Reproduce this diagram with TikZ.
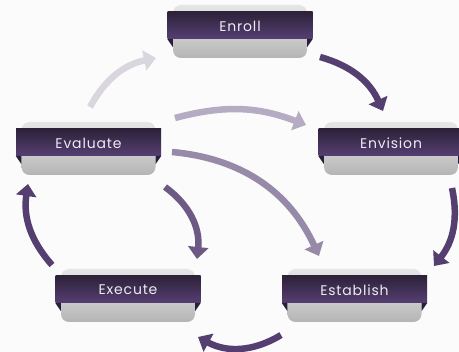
\documentclass[tikz,border=0pt]{standalone}
\usepackage{fontspec}
\setmainfont{Poppins}[LetterSpace=6]
\usetikzlibrary{arrows.meta,calc,shadings}
\definecolor{bgc}{HTML}{FBFBFC}
\definecolor{darkarrow}{HTML}{543F70}
\definecolor{arrowB}{HTML}{6C5A85}
\definecolor{arrowC}{HTML}{978AA8}
\definecolor{arrowD}{HTML}{B5ABC3}
\definecolor{arrowE}{HTML}{D9D6E0}
\definecolor{bandtop}{HTML}{2C2138}
\definecolor{bandbot}{HTML}{563F72}
\definecolor{graytop}{HTML}{E6E6E6}
\definecolor{graybot}{HTML}{B4B4B4}
\definecolor{txtc}{HTML}{EEEAF2}
\definecolor{foldc}{HTML}{2A1F36}
\tikzset{
  graybox/.style={rectangle, rounded corners=8pt, minimum width=134pt, minimum height=53pt,
    inner sep=0pt, top color=graytop, bottom color=graybot, middle color=graytop!60!graybot},
  band/.style={rectangle, minimum width=145pt, minimum height=27.5pt, inner sep=0pt,
    top color=bandtop, bottom color=bandbot},
  bandtext/.style={text=txtc, inner sep=0pt, font=\fontsize{14}{16}\selectfont},
  cyc/.style={line width=6.5pt, -{Triangle[width=20pt,length=12pt]}, bend left=#1},
  cyc/.default=30
}
\newcommand\stagebox[4]{%
  \node[graybox] (#1) at (#2,#3) {};
  \node[band] (#1-band) at ($(#1.north)+(0,20.25)$) {};
  \node[bandtext] (#1-text) at ($(#1-band.center)+(0,1)$) {#4};
  \fill[foldc] (#1-band.south west) -- (#1.west |- #1-band.south) -- ++(0,8) -- cycle;
  \fill[foldc] (#1-band.south east) -- (#1.east |- #1-band.south) -- ++(0,8) -- cycle;
}
\begin{document}
\begin{tikzpicture}[x=1pt,y=-1pt]
\fill[bgc] (0,0) rectangle (459,352);
\useasboundingbox (0,0) rectangle (459,352);
\begin{scope}
\clip (0,0) rectangle (459,352);
\stagebox{enroll}{240}{31.5}{Enroll}
\stagebox{evaluate}{88.5}{148.5}{Evaluate}
\stagebox{envision}{391}{148.5}{Envision}
\stagebox{execute}{128}{295.5}{Execute}
\stagebox{establish}{354.5}{295.5}{Establish}
\end{scope}
% connector endpoints
\coordinate (a1) at (320,57);  \coordinate (b1) at (383,111);
\coordinate (a2) at (452,188); \coordinate (b2) at (434,266);
\coordinate (a3) at (281,335); \coordinate (b3) at (198,337);
\coordinate (a4) at (52,265);  \coordinate (b4) at (28,184);
\coordinate (a5) at (90,107);  \coordinate (b5) at (156,58);
\coordinate (a6) at (175,118); \coordinate (b6) at (306,125);
\coordinate (a7) at (172,152); \coordinate (b7) at (319,256);
\coordinate (a8) at (165,187); \coordinate (b8) at (197,259);
\draw[cyc=25, arrowE] (a5) to (b5);
\draw[cyc=18, arrowD] (a6) to (b6);
\draw[cyc=30, arrowC] (a7) to (b7);
\draw[cyc=30, arrowB] (a8) to (b8);
\draw[cyc=25, darkarrow] (a1) to (b1);
\draw[cyc=25, darkarrow] (a2) to (b2);
\draw[cyc=30, darkarrow] (a3) to (b3);
\draw[cyc=25, darkarrow] (a4) to (b4);
\end{tikzpicture}
\end{document}
